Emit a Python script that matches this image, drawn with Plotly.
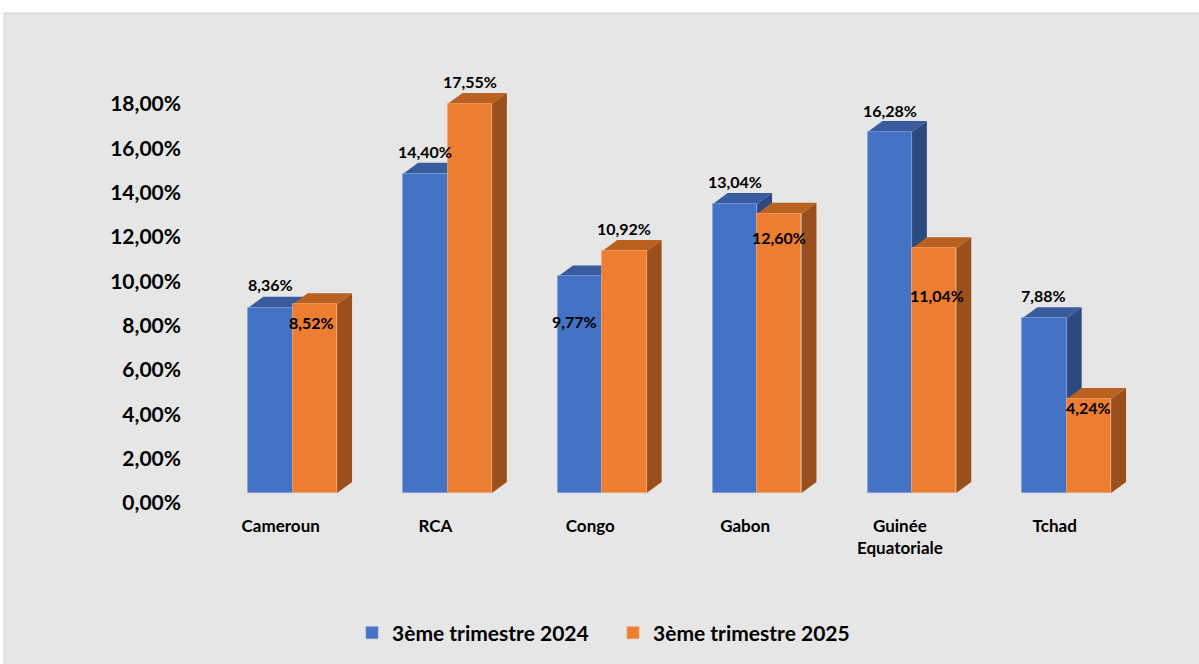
import plotly.graph_objects as go

# ---- data ----
categories = ["Cameroun", "RCA", "Congo", "Gabon", "Guinée<br>Equatoriale", "Tchad"]
series_2024 = [8.36, 14.40, 9.77, 13.04, 16.28, 7.88]
series_2025 = [8.52, 17.55, 10.92, 12.60, 11.04, 4.24]
labels_2024 = ["8,36%", "14,40%", "9,77%", "13,04%", "16,28%", "7,88%"]
labels_2025 = ["8,52%", "17,55%", "10,92%", "12,60%", "11,04%", "4,24%"]
series_names = ["3ème trimestre 2024", "3ème trimestre 2025"]
y_ticks = [0, 2, 4, 6, 8, 10, 12, 14, 16, 18]
y_ticktext = ["0,00%", "2,00%", "4,00%", "6,00%", "8,00%", "10,00%", "12,00%", "14,00%", "16,00%", "18,00%"]

# ---- style ----
W = 0.2866      # bar width (category units)
DX = 0.0968     # depth offset x (category units)
DY = 0.495      # depth offset y (value units)
BASE = 0.45     # front-face baseline shift (value units)
front = ["#4472C4", "#ED7D31"]
top_c = ["#385C9E", "#B9611F"]
side_c = ["#2C4A80", "#9B4F1D"]
edge = ["#7F9BD6", "#F2A36E"]
# label offsets in px (positive = up) relative to front-face top
lab_dy = [[23, 22, -45, 22, 22, 23], [-18, 22, 22, -24, -47, -8]]
lab_dx = [[0, 0, -6, 0, 0, -1], [-3, 0, 0, 0, 3, 0]]
FONT = "Lato"

fig = go.Figure()
xs = list(range(len(categories)))
all_series = [series_2024, series_2025]
all_labels = [labels_2024, labels_2025]

for s, vals in enumerate(all_series):
    off = -W if s == 0 else 0.0
    # side + top faces
    for i, v in zip(xs, vals):
        xl = i + off
        xr = xl + W
        ytop = BASE + v
        fig.add_trace(go.Scatter(
            x=[xr, xr + DX, xr + DX, xr, xr],
            y=[BASE, BASE + DY, ytop + DY, ytop, BASE],
            fill="toself", fillcolor=side_c[s], mode="lines",
            line=dict(width=0, color=side_c[s]), showlegend=False,
            hoverinfo="skip", zorder=2 * s))
        fig.add_trace(go.Scatter(
            x=[xl, xl + DX, xr + DX, xr, xl],
            y=[ytop, ytop + DY, ytop + DY, ytop, ytop],
            fill="toself", fillcolor=top_c[s], mode="lines",
            line=dict(width=0, color=top_c[s]), showlegend=False,
            hoverinfo="skip", zorder=2 * s))
    # front faces
    fig.add_trace(go.Bar(
        x=xs, y=vals, base=BASE, width=W, offset=off,
        marker=dict(color=front[s], line=dict(color=edge[s], width=0.8)),
        name=series_names[s], zorder=2 * s + 1))
    # labels
    for i, v in enumerate(vals):
        fig.add_annotation(
            x=i + off + W / 2, y=BASE + v, text=all_labels[s][i],
            showarrow=False, xshift=lab_dx[s][i], yshift=lab_dy[s][i],
            font=dict(family=FONT, size=16, color="#000000", weight="bold"))

L, R, T, B = 190, 39, 60, 160
pw, ph = 1199 - L - R, 664 - T - B
x0 = (L - 292.7) / 154.8
x1 = (1199 - R - 292.7) / 154.8
ymax = ph / 22.22

def px_to_paper_x(px):
    return (px - L) / pw

def px_to_paper_y(py):
    return (664 - B - py) / ph

fig.add_shape(type="rect", xref="paper", yref="paper",
              x0=px_to_paper_x(4), x1=px_to_paper_x(1203),
              y0=px_to_paper_y(668), y1=px_to_paper_y(13),
              fillcolor="#E6E6E6", line=dict(color="#D0D0D0", width=1),
              layer="below")

fig.update_layout(
    width=1199, height=664,
    margin=dict(l=L, r=R, t=T, b=B),
    paper_bgcolor="#FFFFFF", plot_bgcolor="rgba(0,0,0,0)",
    barmode="overlay", bargap=0,
    showlegend=True,
    legend=dict(orientation="h", x=px_to_paper_x(613), xanchor="center",
                y=px_to_paper_y(633), yanchor="middle",
                font=dict(family=FONT, size=21, color="#000000", weight="bold"),
                bgcolor="rgba(0,0,0,0)", itemwidth=30,
                entrywidth=216, entrywidthmode="pixels"),
    xaxis=dict(range=[x0, x1], showgrid=False, zeroline=False, showline=False,
               tickvals=[i - 0.0775 for i in xs], ticktext=categories,
               ticks="", ticklabelstandoff=11,
               tickfont=dict(family=FONT, size=17, color="#000000", weight="bold")),
    yaxis=dict(range=[0, ymax], showgrid=False, zeroline=False, showline=False,
               tickvals=y_ticks, ticktext=y_ticktext, ticks="",
               ticklabelstandoff=8,
               tickfont=dict(family=FONT, size=21, color="#000000", weight="bold")),
)

fig.write_html("out.html")
